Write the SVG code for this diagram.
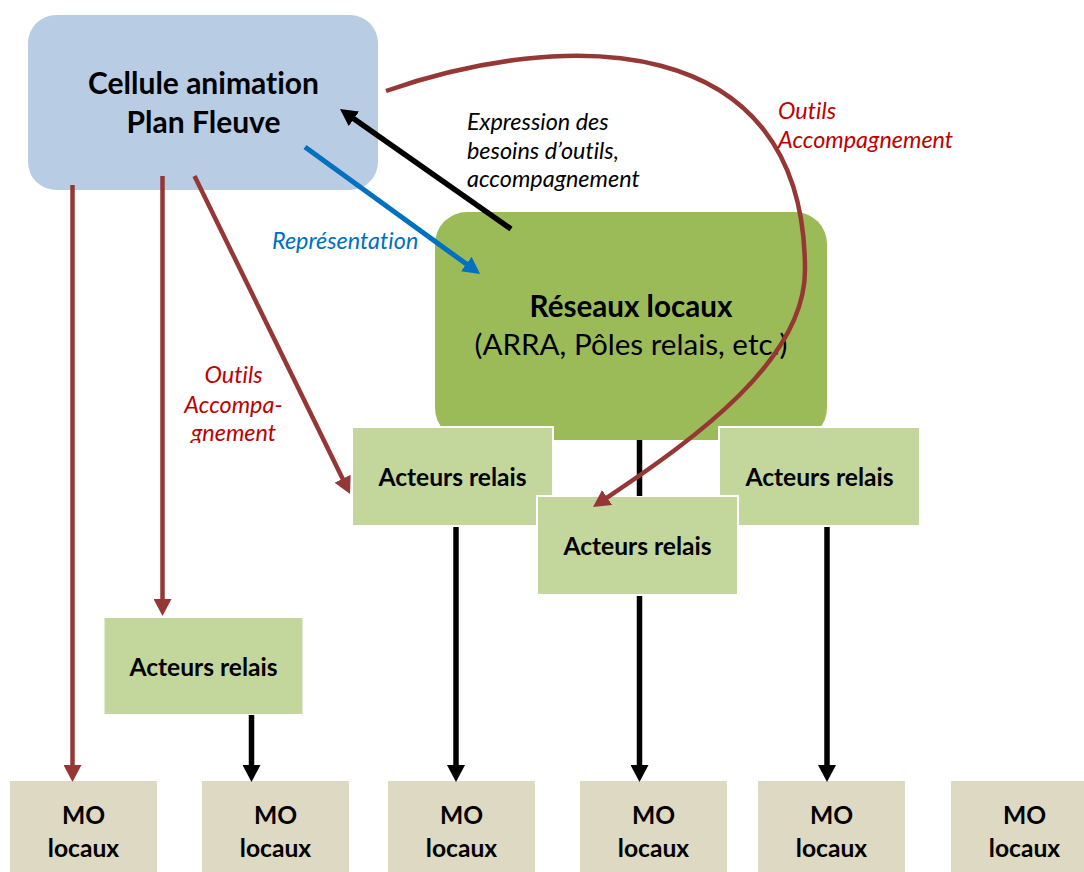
<svg xmlns="http://www.w3.org/2000/svg" width="1084" height="872" viewBox="0 0 1084 872">
<style>
text{font-variant-ligatures:none}
.b{font-family:Lato,"Open Sans",sans-serif;font-weight:bold;fill:#000;text-anchor:middle}
.r{font-family:Lato,"Open Sans",sans-serif;fill:#000;text-anchor:middle}
.i{font-family:Lato,"Open Sans",sans-serif;font-style:italic;font-size:23.4px}
.act{fill:#C3D69B;stroke:#fff;stroke-width:2}
.mo{fill:#DDD9C3}
.br{stroke:#953735;stroke-width:4.5;fill:none}
.bk{stroke:#000;stroke-width:5.5;fill:none}
.bl{stroke:#0070C0;stroke-width:5;fill:none}
</style>
<defs>
<marker id="mbr" markerUnits="userSpaceOnUse" markerWidth="17" markerHeight="18" refX="1" refY="9" orient="auto" viewBox="0 0 17 18"><path d="M0,0 L17,9 L0,18 z" fill="#953735"/></marker>
<marker id="mbk" markerUnits="userSpaceOnUse" markerWidth="17" markerHeight="18" refX="1" refY="9" orient="auto" viewBox="0 0 17 18"><path d="M0,0 L17,9 L0,18 z" fill="#000"/></marker>
<marker id="mbl" markerUnits="userSpaceOnUse" markerWidth="17" markerHeight="18" refX="1" refY="9" orient="auto" viewBox="0 0 17 18"><path d="M0,0 L17,9 L0,18 z" fill="#0070C0"/></marker>
<clipPath id="clipg"><rect x="150" y="420" width="160" height="23"/></clipPath>
</defs>

<g id="cellule">
<rect x="28" y="15" width="350" height="175" rx="28" fill="#B8CCE4"/>
<text class="b" x="203.5" y="94.3" font-size="30">Cellule animation</text>
<text class="b" x="203.5" y="132.7" font-size="30">Plan Fleuve</text>
</g>

<g id="reseaux">
<rect x="435" y="212" width="392" height="228" rx="32" fill="#9BBB59"/>
<text class="b" x="631" y="316.7" font-size="29.6">Réseaux locaux</text>
<text class="r" x="631" y="355" font-size="29.6">(ARRA, Pôles relais, etc.)</text>
</g>

<g id="acteurs-a">
<rect class="act" x="352" y="427" width="201" height="99"/>
<text class="b" x="452.5" y="486" font-size="24.6">Acteurs relais</text>
</g>
<g id="acteurs-c">
<rect class="act" x="719" y="427" width="201" height="99"/>
<text class="b" x="819.5" y="486" font-size="24.6">Acteurs relais</text>
</g>
<g id="acteurs-b">
<rect class="act" x="537" y="496" width="201" height="99"/>
<text class="b" x="637.5" y="555" font-size="24.6">Acteurs relais</text>
</g>
<g id="acteurs-d">
<rect class="act" x="103.5" y="617" width="200" height="98"/>
<text class="b" x="203.5" y="676" font-size="24.6">Acteurs relais</text>
</g>

<g id="mo1"><rect class="mo" x="10" y="781" width="147" height="91"/><text class="b" x="83.5" y="824" font-size="24.6">MO</text><text class="b" x="83.5" y="857" font-size="24.6">locaux</text></g>
<g id="mo2"><rect class="mo" x="202" y="781" width="147" height="91"/><text class="b" x="275.5" y="824" font-size="24.6">MO</text><text class="b" x="275.5" y="857" font-size="24.6">locaux</text></g>
<g id="mo3"><rect class="mo" x="388" y="781" width="147" height="91"/><text class="b" x="461.5" y="824" font-size="24.6">MO</text><text class="b" x="461.5" y="857" font-size="24.6">locaux</text></g>
<g id="mo4"><rect class="mo" x="580" y="781" width="147" height="91"/><text class="b" x="653.5" y="824" font-size="24.6">MO</text><text class="b" x="653.5" y="857" font-size="24.6">locaux</text></g>
<g id="mo5"><rect class="mo" x="758" y="781" width="147" height="91"/><text class="b" x="831.5" y="824" font-size="24.6">MO</text><text class="b" x="831.5" y="857" font-size="24.6">locaux</text></g>
<g id="mo6"><rect class="mo" x="951" y="781" width="147" height="91"/><text class="b" x="1024.5" y="824" font-size="24.6">MO</text><text class="b" x="1024.5" y="857" font-size="24.6">locaux</text></g>

<g id="connectors">
<line class="br" x1="72.5" y1="185" x2="72.5" y2="766" marker-end="url(#mbr)"/>
<line class="br" x1="162.5" y1="176" x2="162.5" y2="600" marker-end="url(#mbr)"/>
<line class="br" x1="194.5" y1="176" x2="343" y2="479.6" marker-end="url(#mbr)"/>
<line class="bk" x1="511" y1="229" x2="353.1" y2="118.2" marker-end="url(#mbk)"/>
<line class="bl" x1="305" y1="147" x2="467.1" y2="264.6" marker-end="url(#mbl)"/>
<line class="bk" x1="639.5" y1="440" x2="639.5" y2="496"/>
<line class="bk" x1="251.5" y1="715" x2="251.5" y2="766" marker-end="url(#mbk)"/>
<line class="bk" x1="456" y1="527" x2="456" y2="766" marker-end="url(#mbk)"/>
<line class="bk" x1="639.5" y1="596" x2="639.5" y2="766" marker-end="url(#mbk)"/>
<line class="bk" x1="827" y1="527" x2="827" y2="766" marker-end="url(#mbk)"/>
<path class="br" d="M386,91 C560,30 805,25 805,270 C805,360 696,438 606.3,498.1" marker-end="url(#mbr)"/>
</g>

<g id="labels">
<text class="i" x="467" y="130">Expression des</text>
<text class="i" x="467" y="158.5">besoins d’outils,</text>
<text class="i" x="467" y="187">accompagnement</text>
<text class="i" x="272" y="249" fill="#0070C0">Représentation</text>
<text class="i" x="778" y="119" fill="#C00000">Outils</text>
<text class="i" x="778" y="148" fill="#C00000">Accompagnement</text>
<text class="i" x="233.5" y="383" fill="#C00000" text-anchor="middle">Outils</text>
<text class="i" x="233.5" y="413" fill="#C00000" text-anchor="middle">Accompa-</text>
<text class="i" x="233.5" y="441" fill="#C00000" text-anchor="middle" clip-path="url(#clipg)">gnement</text>
</g>
</svg>
